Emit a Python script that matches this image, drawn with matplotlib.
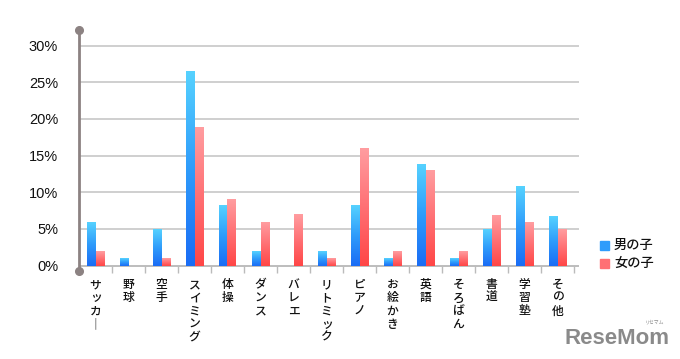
import numpy as np
import matplotlib
matplotlib.use("Agg")
import matplotlib.pyplot as plt
from matplotlib.colors import LinearSegmentedColormap
from matplotlib.patches import Rectangle

plt.rcParams['font.family'] = ['Noto Sans CJK JP', 'DejaVu Sans']

categories = ["サッカー", "野球", "空手", "スイミング", "体操", "ダンス", "バレエ",
              "リトミック", "ピアノ", "お絵かき", "英語", "そろばん", "書道", "学習塾", "その他"]
boys = [5.9, 1.0, 5.0, 26.6, 8.3, 2.0, 0.0, 2.0, 8.3, 1.0, 13.9, 1.0, 5.0, 10.8, 6.7]
girls = [2.0, 0.0, 1.0, 18.9, 9.1, 6.0, 7.0, 1.0, 16.1, 2.0, 13.0, 2.0, 6.9, 6.0, 5.0]
series_names = ["男の子", "女の子"]
yticks = [0, 5, 10, 15, 20, 25, 30]

W, H = 680, 359
fig = plt.figure(figsize=(W / 100, H / 100), dpi=100)
ax = fig.add_axes([79 / W, 1 - 265.5 / H, (574 - 79) / W, (265.5 - 30) / H])

n = len(categories)
x = np.arange(n)
bw = 0.245
ymax = 30 * (265.5 - 30) / (265.5 - 45.7)

blue_cmap = LinearSegmentedColormap.from_list("b", ["#1a6cf5", "#2f9cfb", "#56d2ff"])
red_cmap = LinearSegmentedColormap.from_list("r", ["#ff4646", "#ff7074", "#ff9da0"])

grad = np.linspace(0, 1, 256).reshape(-1, 1)
for vals, off, cmap, solid in [(boys, -bw / 2, blue_cmap, "#2f9cfb"), (girls, bw / 2, red_cmap, "#ff7074")]:
    bars = ax.bar(x + off, vals, width=bw, color=solid, zorder=3)
    for p in bars:
        h = p.get_height()
        if h <= 0:
            continue
        im = ax.imshow(grad, cmap=cmap, aspect='auto', origin='lower',
                       extent=[p.get_x(), p.get_x() + p.get_width(), 0, h], zorder=3.5)
        im.set_clip_path(p)

ax.set_xlim(-0.5, n - 0.5)
ax.set_ylim(0, ymax)

# gridlines extending a bit beyond last category
for yv in yticks:
    ax.plot([-0.5, n - 0.5 + 5 / 33], [yv, yv], color="#cfcfcf" if yv else "#bdbdbd",
            lw=1.4, zorder=1, clip_on=False, solid_capstyle='butt')

for s in ax.spines.values():
    s.set_visible(False)

# vertical axis line with dots
ax.plot([-0.5, -0.5], [0 - 0.7, ymax], color="#8c8282", lw=2, clip_on=False, zorder=5)
ax.plot([-0.5], [ymax], 'o', color="#8c8282", ms=5.5, clip_on=False, zorder=6)
ax.plot([-0.5], [-0.7], 'o', color="#8c8282", ms=5.5, clip_on=False, zorder=6)

ax.set_yticks(yticks)
ax.set_yticklabels([f"{v}%" for v in yticks], fontsize=10.5, color="#111111",
                   family=['Liberation Sans', 'DejaVu Sans'])
ax.tick_params(axis='y', length=0, pad=15)

ax.set_xticks(x)
ax.set_xticklabels(["\n".join(c.replace("ー", "｜")) for c in categories],
                   fontsize=8.5, color="#111111", linespacing=1.02, va='top',
                   fontweight='medium')
ax.tick_params(axis='x', length=0, pad=9)
ax.set_xticks(np.arange(n) + 0.5, minor=True)
ax.tick_params(axis='x', which='minor', length=5, width=1, color="#bbbbbb")

ax.set_facecolor("none")

# legend
for i, (name, col) in enumerate(zip(series_names, ["#2f9cfb", "#ff7074"])):
    yy = 1 - (245 + i * 18) / H
    fig.patches.append(Rectangle((600 / W, yy - 4.5 / H), 9 / W, 9 / H, color=col,
                                 transform=fig.transFigure, figure=fig))
    fig.text(614 / W, yy, name, fontsize=9.5, va='center', ha='left', color="#111111",
             fontweight='medium')

# watermark
fig.text(617 / W, 1 - 339 / H, "ReseMom", fontsize=16, fontweight='bold', color="#8a8a8a",
         ha='center', va='center', family=['Liberation Sans Narrow', 'Liberation Sans', 'DejaVu Sans'])
fig.text(655 / W, 1 - 322 / H, "リセマム", fontsize=3.5, color="#8a8a8a", ha='center', va='center')

fig.savefig("out.png", dpi=100)
